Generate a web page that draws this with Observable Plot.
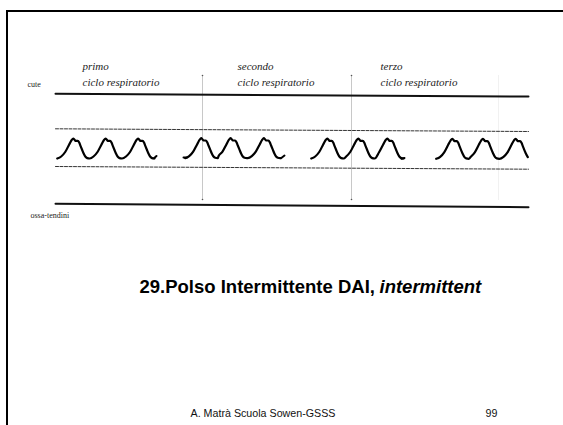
<!DOCTYPE html>
<html><head><meta charset="utf-8">
<script src="https://cdn.jsdelivr.net/npm/d3@7"></script>
<script src="https://cdn.jsdelivr.net/npm/@observablehq/plot@0.6"></script>
<style>
html,body{margin:0;padding:0;background:#fff;}
#wrap{position:relative;width:563px;height:425px;overflow:hidden;}
#frame{position:absolute;left:6px;top:10px;width:600px;height:500px;border-top:2px solid #000;border-left:2px solid #000;}
#chart{position:absolute;left:0;top:0;}
</style></head>
<body>
<div id="wrap"><div id="frame"></div><div id="chart"></div></div>
<script>
// Skin / bone boundary lines (x, y at left and right end)
const boundaryNames = ["cute", "ossa-tendini"];
const boundaryX = [55, 528];
const boundaryYLeft = [93.3, 203.3];
const boundaryYRight = [96, 206.7];
// Dashed band around the pulse trace
const bandYLeft = [128.3, 166];
const bandYRight = [131, 168.7];
// Respiratory cycle labels
const cycleNames = ["primo", "secondo", "terzo"];
const cycleX = [82, 237, 380];
const cycleSub = "ciclo respiratorio";
// Cycle separators (vertical grey lines)
const separatorX = [202, 351, 498];
const separatorOpacity = [1, 1, 0.25];
// Pulse groups: peak positions, start and end of each trace
const groupPeaks = [[72.7, 105, 137.5], [200.7, 230, 263.3], [326.7, 357.7, 386.7], [451.7, 482.3, 515]];
const groupPeakY = [138, 137.7, 138, 138.3];
const groupStart = [55, 183, 308, 433];
const groupEnd = [155, 284, 404, 528];
// One pulse shape: dx from peak, depth below peak
const pulseDx = [-16, -12, -8, -4, -1.5, 0, 1.2, 2.3, 4.6, 6, 7.3, 9, 10.6, 12.3, 14, 16.5];
const pulseDy = [20, 18, 13.5, 6, 1.5, 0, 1, 2.3, 2.3, 4, 7.3, 11.5, 15.3, 18.3, 19.6, 20];
// Texts
const titleMain = "29.Polso Intermittente DAI,";
const titleItalic = "intermittent";
const footer = "A. Matrà Scuola Sowen-GSSS";
const pageNo = "99";

const solid = boundaryNames.map((n, i) => [{x: boundaryX[0], y: boundaryYLeft[i]}, {x: boundaryX[1], y: boundaryYRight[i]}]);
const dashed = bandYLeft.map((y, i) => [{x: boundaryX[0], y}, {x: boundaryX[1], y: bandYRight[i]}]);

const traces = groupPeaks.map((peaks, g) => {
  const pts = [];
  peaks.forEach(px => pulseDx.forEach((dx, k) => {
    const x = px + dx;
    const last = pts.length ? pts[pts.length - 1].x : -Infinity;
    if (x >= groupStart[g] && x <= groupEnd[g] && x > last + 0.5) pts.push({x, y: groupPeakY[g] + pulseDy[k]});
  }));
  return pts;
});
// small end flicks seen on the first three traces
const flicks = [[{x: 153.5, y: 157.8}, {x: 156, y: 155.5}], [{x: 280.5, y: 157.8}, {x: 284, y: 155}], [{x: 401, y: 158.2}, {x: 404, y: 157.5}]];
const leadDash = [{x: 183, y: 157}, {x: 186.5, y: 157}];

const seps = separatorX.map((x, i) => ({x, y1: 75, y2: 200, o: separatorOpacity[i]}));

const serif = "Liberation Serif";
const sans = "Liberation Sans";
const chart = Plot.plot({
  width: 563, height: 425,
  margin: 0,
  x: {domain: [0, 563], range: [0, 563], axis: null},
  y: {domain: [0, 425], range: [0, 425], axis: null},
  marks: [
    Plot.ruleX(seps, {x: "x", y1: "y1", y2: "y2", stroke: "#c8c8c8", strokeOpacity: "o", strokeWidth: 1}),
    Plot.dot(seps.slice(0, 2).flatMap(d => [{x: d.x, y: d.y1}, {x: d.x, y: d.y2 - 1}]), {x: "x", y: "y", r: 0.8, fill: "#555"}),
    ...solid.map(s => Plot.line(s, {x: "x", y: "y", stroke: "#111", strokeWidth: 2})),
    ...dashed.map(s => Plot.line(s, {x: "x", y: "y", stroke: "#333", strokeWidth: 1, strokeDasharray: "3,1.5"})),
    ...traces.map(t => Plot.line(t, {x: "x", y: "y", stroke: "#000", strokeWidth: 2.2, curve: "monotone-x", strokeLinejoin: "round"})),
    ...flicks.map(f => Plot.line(f, {x: "x", y: "y", stroke: "#000", strokeWidth: 2})),
    Plot.line(leadDash, {x: "x", y: "y", stroke: "#000", strokeWidth: 2}),
    Plot.text(cycleNames, {x: (d, i) => cycleX[i], y: 69, text: d => d, textAnchor: "start", lineAnchor: "bottom", fontFamily: serif, fontStyle: "italic", fontSize: 11, fill: "#222"}),
    Plot.text(cycleNames, {x: (d, i) => cycleX[i], y: 85, text: () => cycleSub, textAnchor: "start", lineAnchor: "bottom", fontFamily: serif, fontStyle: "italic", fontSize: 11, fill: "#222"}),
    Plot.text([boundaryNames[0]], {x: 27, y: 86, text: d => d, textAnchor: "start", lineAnchor: "bottom", fontFamily: serif, fontSize: 8, fill: "#222"}),
    Plot.text([boundaryNames[1]], {x: 30, y: 217, text: d => d, textAnchor: "start", lineAnchor: "bottom", fontFamily: serif, fontSize: 8, fill: "#222"}),
    Plot.text([titleMain], {x: 139, y: 292, text: d => d, textAnchor: "start", lineAnchor: "bottom", fontFamily: sans, fontWeight: "bold", fontSize: 18.5, fill: "#000"}),
    Plot.text([titleItalic], {x: 379, y: 292, text: d => d, textAnchor: "start", lineAnchor: "bottom", fontFamily: sans, fontWeight: "bold", fontStyle: "italic", fontSize: 18.5, fill: "#000"}),
    Plot.text([footer], {x: 262.5, y: 416.5, text: d => d, textAnchor: "middle", lineAnchor: "bottom", fontFamily: sans, fontSize: 10.7, fill: "#111"}),
    Plot.text([pageNo], {x: 497, y: 416.5, text: d => d, textAnchor: "end", lineAnchor: "bottom", fontFamily: sans, fontSize: 10.7, fill: "#111"})
  ]
});
document.getElementById("chart").append(chart);
</script>
</body></html>
